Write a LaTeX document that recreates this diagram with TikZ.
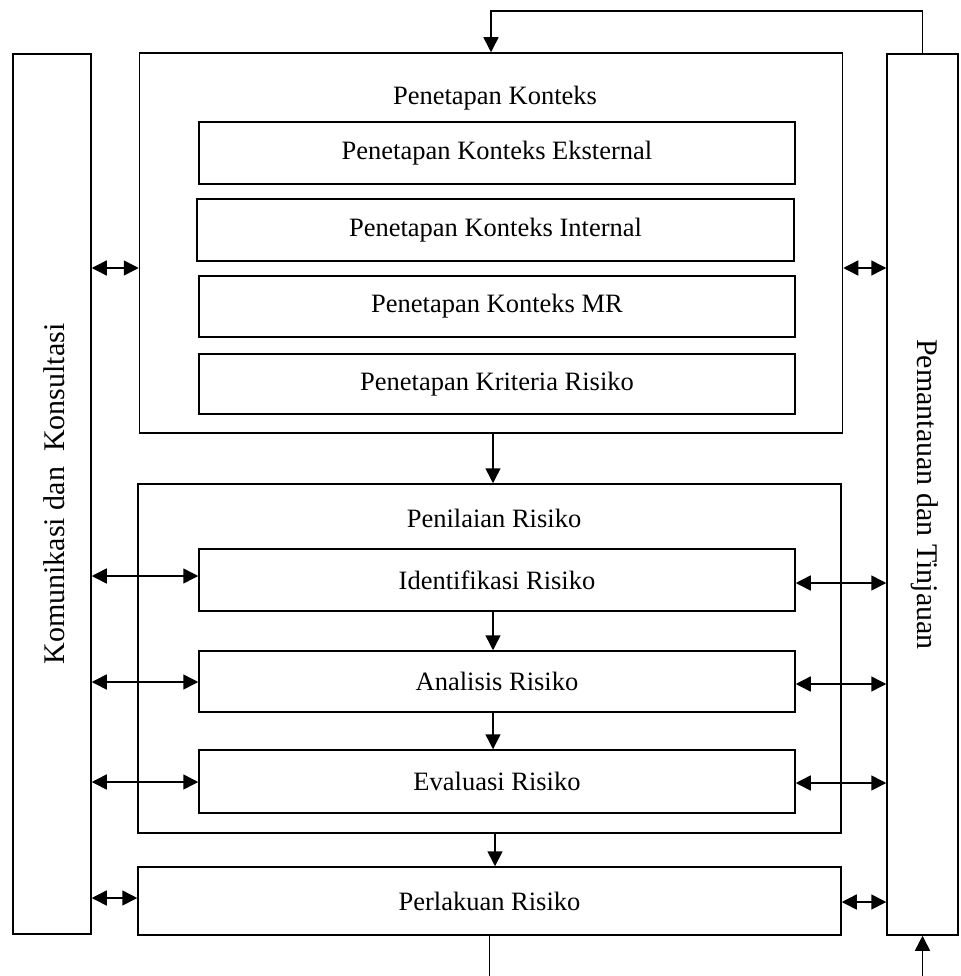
\documentclass[tikz,border=0pt]{standalone}
\usepackage{fontspec}
\setmainfont{Liberation Serif}
\usetikzlibrary{arrows.meta}
\begin{document}
\begin{tikzpicture}[x=1pt,y=-1pt,
  box/.style={draw, line width=1.5pt, inner sep=0pt, font=\fontsize{26.5}{30}\selectfont, align=center},
  sidetext/.style={font=\fontsize{30}{34}\selectfont},
  arr/.style={line width=1.5pt, -{Triangle[length=15pt,width=15pt]}},
  dbl/.style={line width=1.5pt, {Triangle[length=15pt,width=15pt]}-{Triangle[length=15pt,width=15pt]}},
  lineonly/.style={line width=1.5pt}]
\useasboundingbox (0,0) rectangle (960,976);
% side boxes
\node[box, minimum width=78pt, minimum height=880pt,
  label={[rotate=90, sidetext, yshift=-2pt]center:Komunikasi dan\ \ Konsultasi}] (kom) at (52,494) {};
\node[box, minimum width=71pt, minimum height=881pt,
  label={[rotate=-90, sidetext, yshift=2pt]center:Pemantauan dan Tinjauan}] (pem) at (922.5,494.5) {};
% context
\node[box, minimum width=703pt, minimum height=380pt] (ctx) at (491,243) {};
\node[font=\fontsize{26.5}{30}\selectfont] (ctxt) at (495,98) {Penetapan Konteks};
\node[box, minimum width=596pt, minimum height=62pt] (ext) at (497,153) {Penetapan Konteks Eksternal};
\node[box, minimum width=597pt, minimum height=62pt] (int) at (495.5,230) {Penetapan Konteks Internal};
\node[box, minimum width=596pt, minimum height=61pt] (mr) at (497,306.5) {Penetapan Konteks MR};
\node[box, minimum width=596pt, minimum height=60pt] (krit) at (497,384) {Penetapan Kriteria Risiko};
% assessment
\node[box, minimum width=703pt, minimum height=349pt] (nil) at (489.5,658.5) {};
\node[font=\fontsize{26.5}{30}\selectfont] (nilt) at (494,518) {Penilaian Risiko};
\node[box, minimum width=596pt, minimum height=62pt] (idf) at (497,580) {Identifikasi Risiko};
\node[box, minimum width=596pt, minimum height=61pt] (ana) at (497,681.5) {Analisis Risiko};
\node[box, minimum width=596pt, minimum height=63pt] (eva) at (497,781.5) {Evaluasi Risiko};
% treatment
\node[box, minimum width=703pt, minimum height=68pt] (per) at (489.5,901) {Perlakuan Risiko};
% vertical flow
\draw[arr] (ctx.south -| 493,0) -- (nil.north -| 493,0);
\draw[arr] (idf.south -| 493,0) -- (ana.north -| 493,0);
\draw[arr] (ana.south -| 493,0) -- (eva.north -| 493,0);
\draw[arr] (nil.south -| 495,0) -- (per.north -| 495,0);
\coordinate (botL) at (per.south |- 0,976);
\draw[lineonly] (per.south) -- (botL);
\coordinate (botR) at (pem.south |- 0,976);
\draw[arr] (botR) -- (pem.south);
% feedback
\draw[arr] (pem.north) -- ++(0,-42) -| (ctx.north);
% double arrows
\draw[dbl] (kom.east |- 0,268) -- (ctx.west |- 0,268);
\draw[dbl] (ctx.east |- 0,268) -- (pem.west |- 0,268);
\draw[dbl] (kom.east |- 0,576) -- (idf.west |- 0,576);
\draw[dbl] (idf.east |- 0,583) -- (pem.west |- 0,583);
\draw[dbl] (kom.east |- 0,682) -- (ana.west |- 0,682);
\draw[dbl] (ana.east |- 0,684) -- (pem.west |- 0,684);
\draw[dbl] (kom.east |- 0,782) -- (eva.west |- 0,782);
\draw[dbl] (eva.east |- 0,783) -- (pem.west |- 0,783);
\draw[dbl] (kom.east |- 0,898) -- (per.west |- 0,898);
\draw[dbl] (per.east |- 0,902) -- (pem.west |- 0,902);
\end{tikzpicture}
\end{document}
